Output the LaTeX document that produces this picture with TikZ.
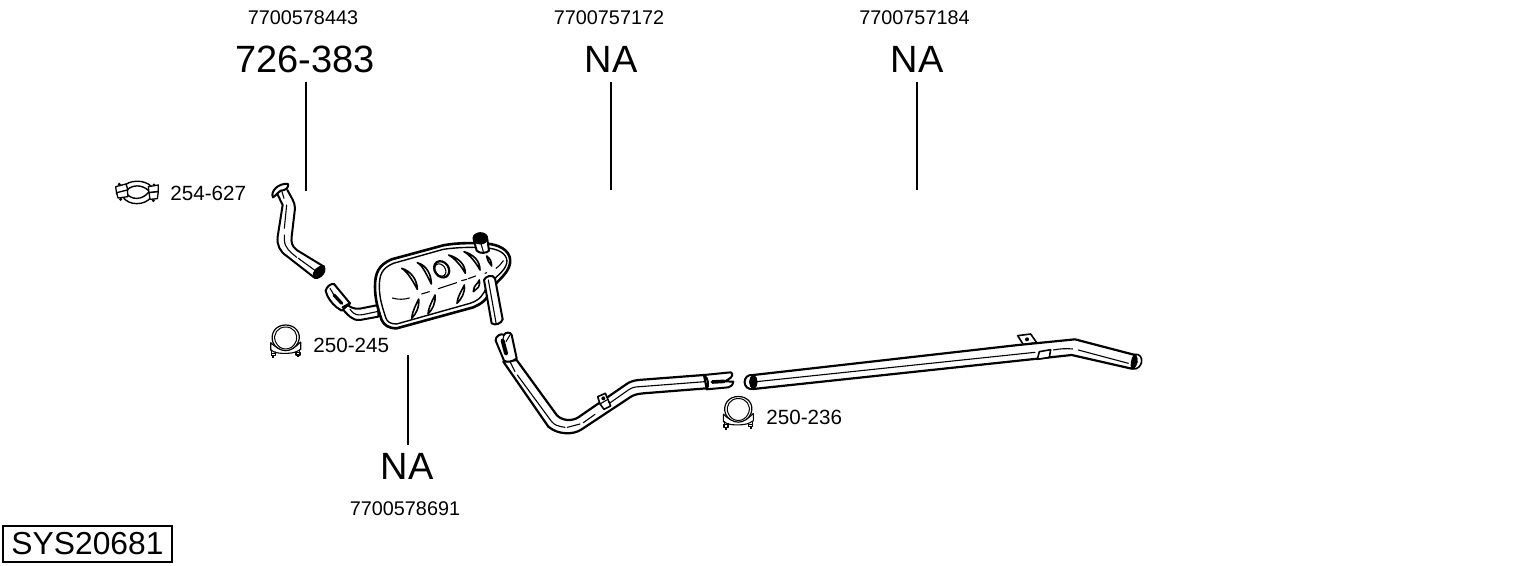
\documentclass[tikz,border=0pt]{standalone}
\usepackage{fontspec}
\setmainfont{Liberation Sans}
\tikzset{
  pipe/.style={draw=black,fill=white,line width=0.8pt,line join=round,line cap=round},
  thin line/.style={draw=black,line width=0.55pt,line cap=round},
  heavy line/.style={draw=black,line width=1.1pt,line cap=round,line join=round},
  dark/.style={fill=black,draw=black,line width=0.5pt},
  leader/.style={draw=black,line width=0.7pt},
  partno/.style={font=\fontsize{9.9}{12}\selectfont,inner sep=0pt},
  bignum/.style={font=\fontsize{19}{22}\selectfont,inner sep=0pt},
  clamplabel/.style={font=\fontsize{10.3}{12}\selectfont,inner sep=0pt,anchor=west},
  sysbox/.style={draw=black,line width=0.8pt,minimum width=84.5pt,minimum height=17.8pt,inner sep=0pt,font=\fontsize{15.9}{18}\selectfont},
  zoomed/.style 2 args={shift={(#1,#2)},scale=1/3}
}
\newcommand{\drawuclamp}{%
    \draw[pipe,line width=0.55pt] (-45,8) .. controls (-30,22) and (-22,28) .. (0,28) .. controls (22,28) and (30,20) .. (45,6) -- (45,28) -- (34,34) .. controls (20,42) and (-20,42) .. (-34,36) -- (-45,30) -- cycle;
    \draw[pipe,line width=0.6pt] (-38,8) .. controls (-48,-20) and (-30,-45) .. (0,-45) .. controls (30,-45) and (48,-20) .. (38,6) .. controls (32,22) and (15,32) .. (0,32) .. controls (-15,32) and (-32,22) .. (-38,8) -- cycle;
    \draw[pipe,line width=0.5pt] (-31,4) .. controls (-39,-18) and (-24,-39) .. (0,-39) .. controls (24,-39) and (39,-18) .. (31,4) .. controls (25,20) and (12,27) .. (0,27) .. controls (-12,27) and (-25,20) .. (-31,4) -- cycle;
    \draw[thin line] (-42,30) -- (-42,40) (-31,36) -- (-31,40);
    \draw[thin line] (31,36) -- (31,40) (42,30) -- (42,38);
    \draw[pipe,line width=0.55pt] (-43,40) rectangle (-31,47);
    \draw[pipe,line width=0.55pt] (31,38) rectangle (43,45);
    \draw[line width=0.9pt] (-37,47) -- (-37,54);
    \draw[line width=0.9pt] (37,45) -- (37,52);
}
\begin{document}
\begin{tikzpicture}[x=0.5pt,y=-0.5pt]
\useasboundingbox (0,0) rectangle (1530,566);
% labels and leaders
\node[partno] (pa) at (303,18) {7700578443};
\node[bignum] (ba) at (305,59.5) {726-383};
\node[partno] (pb) at (609,18) {7700757172};
\node[bignum] (bb) at (611,59.5) {NA};
\node[partno] (pc) at (914.5,18) {7700757184};
\node[bignum] (bc) at (917,59.5) {NA};
\node[bignum] (bd) at (407,466.5) {NA};
\node[partno] (pd) at (405,509) {7700578691};
\node[clamplabel] (la) at (170,193) {254-627};
\node[clamplabel] (lb) at (313,345) {250-245};
\node[clamplabel] (lc) at (766,417) {250-236};
\node[sysbox] (sys) at (87.5,544) {SYS20681};
\coordinate (ea) at (306,191);
\coordinate (eb) at (611,190);
\coordinate (ec) at (917,190);
\coordinate (ed) at (408,355);
\coordinate (sa) at (306,82);
\coordinate (sb) at (611,82);
\coordinate (sc) at (917,82);
\coordinate (sd) at (408,445);
\draw[leader] (sa) -- (ea);
\draw[leader] (sb) -- (eb);
\draw[leader] (sc) -- (ec);
\draw[leader] (sd) -- (ed);
% U clamps
\begin{scope}[zoomed={285.7}{340}]
\drawuclamp
\end{scope}
\begin{scope}[zoomed={738.3}{411.5}]
\drawuclamp
\end{scope}
% flat clamp 254-627
\begin{scope}[zoomed={100}{170}]
  \draw[pipe,line width=0.7pt] (68,52) .. controls (85,28) and (135,28) .. (155,50) -- (155,80) .. controls (135,108) and (85,108) .. (68,80) -- cycle;
  \draw[pipe,line width=0.7pt] (76,66) .. controls (92,42) and (128,42) .. (148,64) .. controls (128,92) and (92,92) .. (76,66) -- cycle;
  \draw[pipe,line width=0.65pt] (47,50) -- (78,42) -- (84,60) -- (50,72) -- cycle;
  \draw[pipe,line width=0.65pt] (50,68) -- (82,60) -- (84,80) -- (54,84) -- cycle;
  \draw[pipe,line width=0.65pt] (145,50) -- (175,45) -- (175,64) -- (147,68) -- cycle;
  \draw[pipe,line width=0.65pt] (147,68) -- (175,65) -- (172,86) -- (150,88) -- cycle;
  \fill (62,88) circle (5);
  \fill (160,92) circle (5);
  \fill (58,43) circle (5);
  \fill (162,45) circle (4.5);
\end{scope}
% first pipe
\begin{scope}[zoomed={100}{170}]
  \draw[pipe,line width=1pt] (532,72) -- (548,105) -- (533,200) .. controls (530,225) and (540,245) .. (560,258) -- (642,322) -- (672,290) -- (590,240) .. controls (575,228) and (573,215) .. (575,200) -- (585,115) .. controls (585,95) and (572,80) .. (562,60);
  \draw[thin line] (560,105) -- (553,175) (553,195) -- (553,210) .. controls (555,235) and (570,245) .. (590,262) (595,265) -- (650,305);
  \draw[pipe,line width=1pt] (519,82) .. controls (510,65) and (535,38) .. (564,42) .. controls (568,50) and (558,62) .. (542,62) .. controls (532,66) and (530,76) .. (519,82) -- cycle;
  \draw[thin line] (545,62) -- (552,85);
  \draw[dark] (640,322) .. controls (650,335) and (685,310) .. (672,288) .. controls (655,285) and (635,305) .. (640,322) -- cycle;
\end{scope}
% muffler group
\begin{scope}[zoomed={310}{220}]
  % inlet pipe
  \draw[pipe,line width=1pt] (100,245) .. controls (120,262) and (130,268) .. (150,266) -- (205,255) -- (205,290) -- (150,300) .. controls (125,302) and (115,285) .. (92,262);
  \draw[thin line] (120,268) .. controls (135,288) and (145,285) .. (158,284) -- (205,274);
  \draw[pipe,line width=1pt] (47,212) .. controls (50,200) and (62,190) .. (72,192) -- (120,250) -- (95,272) -- (80,262) .. controls (65,250) and (50,230) .. (47,212) -- cycle;
  \draw[heavy line,line width=1.6pt] (72,225) -- (95,250);
  \draw[thin line] (60,205) -- (72,225);
  \draw[heavy line] (98,262) -- (120,250);
  % body
  \draw[pipe,line width=1.3pt] (195,200) .. controls (195,160) and (205,135) .. (245,118) -- (400,76) .. controls (440,68) and (500,68) .. (540,72) .. controls (580,78) and (605,100) .. (600,130) .. controls (595,160) and (565,180) .. (545,205) .. controls (530,240) and (520,248) .. (490,262) -- (260,325) .. controls (235,325) and (222,315) .. (215,300) .. controls (205,270) and (195,240) .. (195,200) -- cycle;
  \draw[thin line,line width=0.7pt] (208,200) .. controls (208,165) and (215,145) .. (250,130) -- (400,88) .. controls (440,82) and (490,80) .. (540,85) .. controls (575,90) and (595,108) .. (590,130) .. controls (585,155) and (550,175) .. (530,200) .. controls (520,225) and (510,240) .. (480,250) -- (260,312) .. controls (240,312) and (232,305) .. (228,295) .. controls (218,265) and (208,235) .. (208,200) -- cycle;
  % ribs
  \foreach \a/\b/\c/\d in {275/145/322/208, 322/128/364/192, 416/105/466/160, 462/95/510/150} {
    \draw[pipe] (\a,\b) .. controls (\a+28,\b+8) and (\c,\d-28) .. (\c,\d) .. controls (\c-12,\d-22) and (\a+18,\b+10) .. (\a,\b) -- cycle;
  }
  \draw[pipe] (530,108) .. controls (540,115) and (545,125) .. (545,138) .. controls (537,130) and (532,120) .. (530,108) -- cycle;
  \foreach \a/\b/\c/\d in {305/295/326/237, 354/282/375/225, 441/250/463/195, 490/215/508/180} {
    \draw[pipe] (\a,\b) .. controls (\a+3,\b-25) and (\c-8,\d+18) .. (\c,\d) .. controls (\c+3,\d+25) and (\a+12,\b-12) .. (\a,\b) -- cycle;
  }
  \draw[pipe,line width=1.1pt] (395,148) ellipse [x radius=21,y radius=26,rotate=35];
  \draw[thin line] (391,150) ellipse [x radius=15,y radius=20,rotate=35];
  % dashes on the seam
  \draw[thin line] (247,234) .. controls (265,240) and (285,238) .. (298,234);
  \draw[thin line] (335,222) -- (358,215) (385,206) -- (440,188) (455,182) -- (470,178) (475,176) -- (497,168) (525,160) -- (530,158) (558,145) .. controls (568,138) and (575,130) .. (580,122);
  % outlet top
  \draw[pipe,line width=1pt] (492,62) -- (500,92) .. controls (510,102) and (530,100) .. (537,92) -- (532,58) -- cycle;
  \draw[thin line] (512,68) -- (520,95);
  \draw[dark] (489,55) .. controls (489,45) and (500,38) .. (511,38) .. controls (525,38) and (533,46) .. (533,55) .. controls (533,65) and (522,72) .. (511,72) .. controls (498,72) and (489,65) .. (489,55) -- cycle;
  % lower pipe
  \draw[pipe,line width=1pt] (522,180) .. controls (525,170) and (548,160) .. (555,175) -- (578,298) .. controls (575,310) and (555,318) .. (545,310) -- cycle;
  \draw[thin line] (535,180) -- (558,308);
\end{scope}
% second pipe
\begin{scope}[zoomed={480}{320}]
  \draw[pipe,line width=1.1pt] (110,120) -- (230,285) .. controls (245,302) and (275,305) .. (295,292) -- (440,192) .. controls (450,185) and (460,182) .. (475,180) -- (672,165) -- (680,205) -- (490,220) .. controls (470,222) and (460,225) .. (450,232) -- (305,328) .. controls (280,345) and (235,345) .. (205,320) -- (70,125) -- cycle;
  \draw[thin line] (90,125) -- (105,155) (112,165) -- (215,305) .. controls (225,315) and (230,318) .. (255,322) (262,322) -- (300,312) (310,308) -- (345,283) (388,250) -- (445,210) .. controls (455,203) and (465,200) .. (480,200) -- (675,185);
  \draw[pipe,line width=1pt] (47,62) .. controls (45,48) and (65,38) .. (72,45) .. controls (75,36) and (92,35) .. (95,45) -- (110,115) .. controls (100,125) and (80,128) .. (72,122) -- cycle;
  \draw[heavy line,line width=2pt] (68,62) -- (78,100);
  \draw[thin line] (72,45) -- (68,62) (90,45) -- (78,65);
  \draw[pipe,line width=1pt] (672,165) -- (752,157) .. controls (760,160) and (758,172) .. (745,178) -- (735,184) -- (760,185) .. controls (758,198) and (750,200) .. (745,202) -- (680,208) .. controls (688,195) and (685,175) .. (672,165) -- cycle;
  \draw[heavy line,line width=1.8pt] (697,186) -- (733,184);
  % bracket
  \draw[pipe] (353,230) -- (376,220) -- (392,258) -- (372,268) -- (360,252) -- cycle;
  \draw[thin line] (360,252) -- (380,240);
  \fill (370,235) circle (6);
\end{scope}
% long pipe
\begin{scope}[zoomed={950}{320}]
  % bracket on top
  \draw[pipe] (203,47) -- (242,42) -- (260,68) -- (220,74) -- cycle;
  \fill (231,58) circle (6);
  \draw[pipe,line width=1.1pt] (-590,165) -- (205,75) -- (375,58) -- (555,105) -- (545,146) -- (365,105) -- (300,112) -- (-590,207) -- cycle;
  \draw[thin line] (-590,186) -- (255,97) (310,90) .. controls (330,86) and (350,85) .. (368,87) (385,90) -- (535,130);
  \draw[pipe] (268,95) -- (302,89) -- (298,112) -- (262,118) -- cycle;
  % mouth
  \draw[pipe] (555,103) .. controls (585,100) and (580,150) .. (548,147) .. controls (560,135) and (565,120) .. (555,103) -- cycle;
  \draw[dark] (553,104) .. controls (568,115) and (562,140) .. (546,146) .. controls (540,135) and (545,115) .. (553,104) -- cycle;
  % front mouth
  \draw[pipe,line width=1pt] (-590,165) .. controls (-625,160) and (-625,212) .. (-590,207) -- cycle;
  \draw[dark] (-590,165) .. controls (-575,172) and (-575,200) .. (-590,207) .. controls (-605,200) and (-605,172) .. (-590,165) -- cycle;
\end{scope}
\end{tikzpicture}
\end{document}
